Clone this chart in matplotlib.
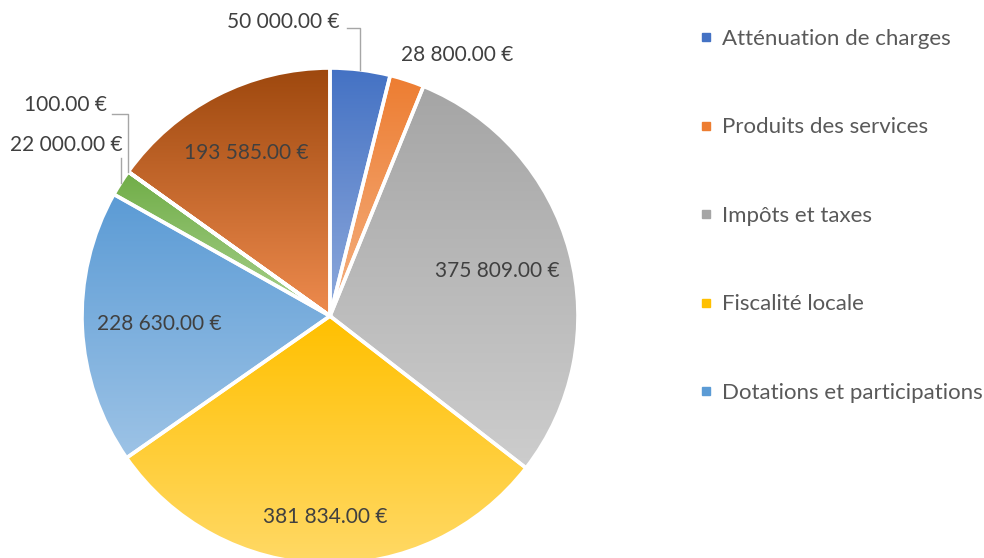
import matplotlib
matplotlib.use("Agg")
import matplotlib.pyplot as plt
import numpy as np
from matplotlib.colors import to_rgb
from matplotlib.patches import Wedge
from matplotlib.lines import Line2D

# data
categories = ["Atténuation de charges", "Produits des services", "Impôts et taxes",
              "Fiscalité locale", "Dotations et participations", "Autres produits",
              "Produits exceptionnels", "Excédent reporté"]
values = [50000, 28800, 375809, 381834, 228630, 22000, 100, 193585]
legend_count = 5

# gradient colours per slice (top -> bottom)
top_colors = ["#4472C4", "#ED7D31", "#A5A5A5", "#FFC000", "#5B9BD5", "#70AD47", "#264478", "#9E480E"]
bottom_colors = ["#8FAADC", "#F4B183", "#CDCDCD", "#FFD966", "#9DC3E6", "#A9D18E", "#4A6FB0", "#EE8B4E"]

plt.rcParams['font.family'] = ['Lato', 'DejaVu Sans']

W, H = 984, 558
fig = plt.figure(figsize=(W / 100, H / 100), dpi=100)
ax = fig.add_axes([0, 0, 1, 1])

cx, cy, R = 330, H - 316, 248

wedges, _ = ax.pie(values, colors=top_colors, startangle=90, counterclock=False,
                   center=(cx, cy), radius=R, wedgeprops=dict(linewidth=0))

# vertical gradient fill clipped to each wedge
for w, c0, c1 in zip(wedges, top_colors, bottom_colors):
    ext = w.get_path().get_extents()
    t = np.linspace(0, 1, 256)[:, None, None]
    grad = (1 - t) * np.array(to_rgb(c0)) + t * np.array(to_rgb(c1))
    im = ax.imshow(grad, extent=[ext.x0, ext.x1, ext.y0, ext.y1], origin='upper',
                   aspect='auto', zorder=2, interpolation='bilinear')
    im.set_clip_path(w)
    ax.add_patch(Wedge(w.center, w.r, w.theta1, w.theta2, fill=False,
                       edgecolor='white', linewidth=2.6, zorder=3))

ax.set_xlim(0, W)
ax.set_ylim(0, H)
ax.set_aspect('equal')
ax.axis('off')


def fmt(v):
    return f"{v:,.2f}".replace(",", " ") + " €"


def point(w, frac):
    ang = np.deg2rad((w.theta1 + w.theta2) / 2)
    return cx + frac * R * np.cos(ang), cy + frac * R * np.sin(ang)


lab_color = "#404040"
fs = 15

# inside labels
for i, frac in [(2, 0.70), (3, 0.81), (4, 0.69), (7, 0.74)]:
    x, y = point(wedges[i], frac)
    ax.text(x, y, fmt(values[i]), ha='center', va='center', fontsize=fs,
            color=lab_color, zorder=5)

line_kw = dict(color='#A6A6A6', lw=1, zorder=4)

# 50 000
ex, ey = point(wedges[0], 1.0)
ax.text(340, H - 22, fmt(values[0]), ha='right', va='center', fontsize=fs, color=lab_color)
ax.plot([347, ex, ex], [H - 28, H - 28, ey], **line_kw)

# 28 800
ax.text(457, H - 55, fmt(values[1]), ha='center', va='center', fontsize=fs, color=lab_color)

# 100
ex, ey = point(wedges[6], 1.0)
ax.text(107, H - 105, fmt(values[6]), ha='right', va='center', fontsize=fs, color=lab_color)
ax.plot([112, ex, ex], [H - 114, H - 114, ey], **line_kw)

# 22 000
ex, ey = point(wedges[5], 1.0)
ax.text(123, H - 145, fmt(values[5]), ha='right', va='center', fontsize=fs, color=lab_color)
ax.plot([ex, ex], [H - 158, ey], **line_kw)

# legend
handles = [Line2D([], [], linestyle='none', marker='s', markersize=6,
                  markerfacecolor=c, markeredgecolor=c) for c in top_colors[:legend_count]]
leg = fig.legend(handles, categories[:legend_count], loc='upper left',
                 bbox_to_anchor=(699 / W, 1 - 29 / H), frameon=False,
                 fontsize=16, labelcolor='#595959', handlelength=0.6,
                 handletextpad=0.45, labelspacing=3.08, borderaxespad=0, borderpad=0)

fig.savefig("out.png", dpi=100)
